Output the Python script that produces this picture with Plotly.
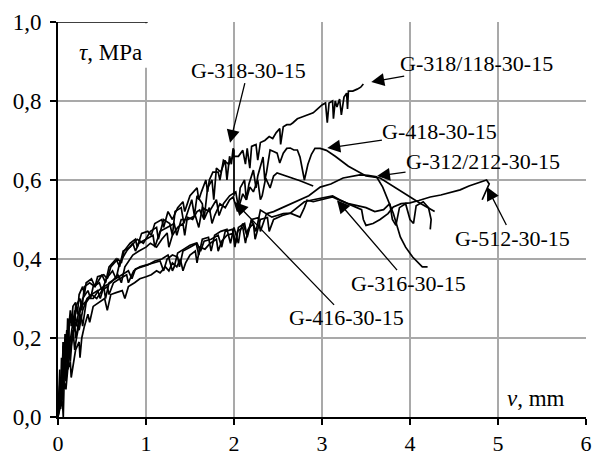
import plotly.graph_objects as go

# ---------------- data: (v [mm], tau [MPa]) ----------------
G318_118 = [(0, 0), (0.02, 0.08), (0.03, 0.05), (0.04, 0.15), (0.05, 0.11), (0.06, 0.19), (0.07, 0.14),
            (0.08, 0.21), (0.1, 0.18), (0.11, 0.25), (0.12, 0.22), (0.14, 0.27), (0.15, 0.23), (0.17, 0.28),
            (0.2, 0.29), (0.22, 0.26), (0.24, 0.31), (0.28, 0.33), (0.3, 0.31), (0.32, 0.34), (0.38, 0.35),
            (0.42, 0.33), (0.45, 0.355), (0.52, 0.36), (0.56, 0.35), (0.6, 0.38), (0.68, 0.4), (0.72, 0.39),
            (0.75, 0.42), (0.82, 0.44), (0.88, 0.45), (0.9, 0.43), (0.95, 0.465), (1.02, 0.47), (1.06, 0.46),
            (1.1, 0.49), (1.18, 0.5), (1.2, 0.48), (1.25, 0.52), (1.3, 0.5), (1.36, 0.53), (1.42, 0.545),
            (1.44, 0.52), (1.5, 0.56), (1.58, 0.58), (1.6, 0.55), (1.63, 0.57), (1.68, 0.6), (1.7, 0.57),
            (1.72, 0.6), (1.76, 0.62), (1.82, 0.62), (1.84, 0.6), (1.88, 0.65), (1.94, 0.64), (1.99, 0.66),
            (2.05, 0.66), (2.1, 0.675), (2.13, 0.64), (2.15, 0.68), (2.18, 0.63), (2.2, 0.685), (2.25, 0.69),
            (2.27, 0.65), (2.3, 0.695), (2.35, 0.70), (2.4, 0.71), (2.44, 0.705), (2.48, 0.72), (2.52, 0.73),
            (2.53, 0.69), (2.56, 0.735), (2.6, 0.74), (2.64, 0.74), (2.67, 0.745), (2.72, 0.755), (2.78, 0.76),
            (2.83, 0.765), (2.9, 0.77), (2.95, 0.78), (3.0, 0.79), (3.04, 0.795), (3.06, 0.745), (3.08, 0.795),
            (3.12, 0.8), (3.13, 0.755), (3.15, 0.80), (3.17, 0.785), (3.2, 0.805), (3.22, 0.765), (3.25, 0.81),
            (3.28, 0.82), (3.29, 0.78), (3.3, 0.825), (3.35, 0.825), (3.4, 0.83), (3.44, 0.835), (3.47, 0.843)]

G318 = [(0, 0), (0.03, 0.1), (0.04, 0.04), (0.06, 0.18), (0.07, 0.1), (0.08, 0.16), (0.1, 0.22), (0.11, 0.17),
        (0.13, 0.24), (0.16, 0.26), (0.18, 0.22), (0.2, 0.28), (0.25, 0.3), (0.27, 0.27), (0.3, 0.33),
        (0.36, 0.34), (0.42, 0.33), (0.5, 0.36), (0.54, 0.34), (0.58, 0.38), (0.66, 0.4), (0.7, 0.38),
        (0.74, 0.42), (0.82, 0.43), (0.9, 0.45), (0.97, 0.44), (1.05, 0.47), (1.12, 0.48), (1.14, 0.45),
        (1.2, 0.5), (1.27, 0.49), (1.3, 0.46), (1.33, 0.52), (1.4, 0.53), (1.43, 0.49), (1.46, 0.51),
        (1.52, 0.55), (1.55, 0.51), (1.58, 0.56), (1.64, 0.54), (1.66, 0.5), (1.7, 0.58), (1.75, 0.6),
        (1.77, 0.55), (1.8, 0.63), (1.85, 0.62), (1.9, 0.65), (1.92, 0.6), (1.95, 0.66), (1.97, 0.64),
        (1.99, 0.68), (2.0, 0.675), (2.0, 0.56)]

G418 = [(0, 0), (0.02, 0.12), (0.03, 0.06), (0.04, 0.08), (0.06, 0.19), (0.07, 0.12), (0.09, 0.16),
        (0.12, 0.23), (0.13, 0.18), (0.15, 0.21), (0.19, 0.27), (0.21, 0.23), (0.23, 0.26), (0.28, 0.3),
        (0.34, 0.32), (0.37, 0.3), (0.4, 0.33), (0.47, 0.34), (0.5, 0.32), (0.55, 0.35), (0.62, 0.37),
        (0.66, 0.35), (0.7, 0.39), (0.78, 0.42), (0.85, 0.44), (0.88, 0.42), (0.92, 0.44), (1.0, 0.45),
        (1.08, 0.46), (1.1, 0.43), (1.16, 0.47), (1.24, 0.48), (1.32, 0.49), (1.35, 0.46), (1.4, 0.5),
        (1.48, 0.5), (1.56, 0.51), (1.6, 0.48), (1.64, 0.53), (1.72, 0.52), (1.8, 0.55), (1.83, 0.51),
        (1.88, 0.54), (1.95, 0.56), (2.02, 0.57), (2.05, 0.53), (2.07, 0.58), (2.12, 0.6), (2.14, 0.55),
        (2.17, 0.59), (2.22, 0.625), (2.25, 0.58), (2.27, 0.61), (2.33, 0.658), (2.35, 0.6), (2.37, 0.62),
        (2.41, 0.676), (2.45, 0.672), (2.49, 0.668), (2.52, 0.643), (2.56, 0.668), (2.6, 0.68),
        (2.64, 0.681), (2.68, 0.676), (2.72, 0.676), (2.75, 0.658), (2.78, 0.618), (2.8, 0.6),
        (2.84, 0.64), (2.88, 0.665), (2.92, 0.68), (2.98, 0.68), (3.05, 0.675), (3.15, 0.66),
        (3.3, 0.635), (3.5, 0.61), (3.66, 0.605), (3.8, 0.585), (3.95, 0.565), (4.11, 0.542), (4.28, 0.52)]

G416 = [(0, 0), (0.03, 0.06), (0.05, 0.13), (0.06, 0.07), (0.07, 0.1), (0.1, 0.17), (0.11, 0.12),
        (0.13, 0.15), (0.17, 0.22), (0.19, 0.17), (0.21, 0.2), (0.26, 0.26), (0.28, 0.23), (0.32, 0.29),
        (0.38, 0.31), (0.45, 0.32), (0.48, 0.3), (0.52, 0.33), (0.6, 0.34), (0.68, 0.36), (0.72, 0.34),
        (0.76, 0.38), (0.85, 0.41), (0.92, 0.42), (1.0, 0.43), (1.05, 0.44), (1.12, 0.43), (1.18, 0.45),
        (1.24, 0.466), (1.26, 0.43), (1.3, 0.46), (1.36, 0.48), (1.42, 0.49), (1.44, 0.46), (1.47, 0.506),
        (1.53, 0.5), (1.58, 0.52), (1.61, 0.524), (1.66, 0.5), (1.72, 0.53), (1.75, 0.49), (1.78, 0.51),
        (1.84, 0.54), (1.9, 0.53), (1.95, 0.55), (1.99, 0.557), (2.04, 0.52), (2.1, 0.565), (2.14, 0.55),
        (2.18, 0.582), (2.22, 0.57), (2.27, 0.6), (2.3, 0.55), (2.32, 0.56), (2.36, 0.605), (2.41, 0.58),
        (2.45, 0.61), (2.49, 0.618), (2.6, 0.61), (2.75, 0.598), (2.9, 0.585)]

G312_212 = [(0, 0), (0.02, 0.05), (0.03, 0.02), (0.04, 0.1), (0.06, 0.07), (0.08, 0.14), (0.1, 0.12),
            (0.13, 0.18), (0.14, 0.14), (0.16, 0.2), (0.2, 0.24), (0.24, 0.22), (0.28, 0.27), (0.33, 0.3),
            (0.38, 0.31), (0.44, 0.3), (0.5, 0.32), (0.56, 0.33), (0.58, 0.31), (0.63, 0.34), (0.7, 0.35),
            (0.78, 0.36), (0.8, 0.34), (0.86, 0.37), (0.93, 0.38), (1.0, 0.385), (1.08, 0.39), (1.16, 0.395),
            (1.2, 0.37), (1.24, 0.4), (1.3, 0.41), (1.36, 0.405), (1.38, 0.38), (1.42, 0.42), (1.5, 0.43),
            (1.58, 0.44), (1.62, 0.42), (1.66, 0.445), (1.74, 0.45), (1.82, 0.46), (1.86, 0.43), (1.9, 0.47),
            (1.98, 0.475), (2.02, 0.44), (2.05, 0.48), (2.12, 0.49), (2.15, 0.455), (2.2, 0.5), (2.28, 0.505),
            (2.3, 0.47), (2.37, 0.515), (2.45, 0.52), (2.55, 0.53), (2.65, 0.54), (2.75, 0.55), (2.85, 0.56),
            (2.98, 0.582), (3.1, 0.59), (3.24, 0.605), (3.35, 0.61), (3.43, 0.613), (3.52, 0.612),
            (3.62, 0.608), (3.69, 0.582), (3.75, 0.55), (3.81, 0.516), (3.89, 0.456), (3.95, 0.43),
            (4.03, 0.405), (4.14, 0.38), (4.2, 0.38)]

G512 = [(0, 0), (0.02, 0.02), (0.05, 0.04), (0.06, 0.0), (0.07, 0.09), (0.09, 0.07), (0.11, 0.12),
        (0.14, 0.14), (0.15, 0.1), (0.17, 0.13), (0.2, 0.17), (0.24, 0.19), (0.25, 0.15), (0.27, 0.2),
        (0.3, 0.23), (0.34, 0.26), (0.36, 0.24), (0.4, 0.28), (0.46, 0.29), (0.53, 0.3), (0.56, 0.27),
        (0.6, 0.31), (0.66, 0.315), (0.73, 0.32), (0.76, 0.3), (0.8, 0.33), (0.87, 0.34), (0.93, 0.35),
        (1.0, 0.355), (1.06, 0.36), (1.12, 0.37), (1.16, 0.365), (1.22, 0.38), (1.26, 0.37), (1.3, 0.39),
        (1.35, 0.38), (1.39, 0.4), (1.42, 0.37), (1.45, 0.39), (1.5, 0.41), (1.56, 0.42), (1.58, 0.39),
        (1.61, 0.43), (1.67, 0.425), (1.73, 0.44), (1.8, 0.45), (1.82, 0.42), (1.86, 0.445), (1.92, 0.46),
        (1.99, 0.465), (2.01, 0.43), (2.04, 0.47), (2.1, 0.48), (2.13, 0.44), (2.16, 0.475), (2.22, 0.49),
        (2.24, 0.45), (2.3, 0.5), (2.38, 0.505), (2.4, 0.47), (2.45, 0.5), (2.55, 0.51), (2.64, 0.516),
        (2.7, 0.51), (2.75, 0.506), (2.8, 0.53), (2.83, 0.549), (2.9, 0.545), (2.98, 0.549), (3.05, 0.552),
        (3.12, 0.557), (3.2, 0.549), (3.3, 0.54), (3.4, 0.53), (3.45, 0.525), (3.47, 0.5), (3.5, 0.485),
        (3.58, 0.49), (3.66, 0.5), (3.75, 0.515), (3.81, 0.532), (3.9, 0.54), (4.0, 0.542), (4.1, 0.548),
        (4.23, 0.557), (4.35, 0.562), (4.45, 0.568), (4.57, 0.575), (4.67, 0.585), (4.76, 0.592),
        (4.82, 0.597), (4.87, 0.6), (4.9, 0.59), (4.88, 0.58), (4.82, 0.55)]

G316 = [(0, 0), (0.03, 0.08), (0.04, 0.03), (0.05, 0.05), (0.08, 0.15), (0.09, 0.09), (0.1, 0.12),
        (0.12, 0.2), (0.13, 0.15), (0.15, 0.18), (0.19, 0.24), (0.2, 0.2), (0.22, 0.22), (0.26, 0.28),
        (0.3, 0.29), (0.35, 0.3), (0.4, 0.3), (0.46, 0.32), (0.52, 0.33), (0.54, 0.3), (0.58, 0.34),
        (0.65, 0.35), (0.72, 0.36), (0.8, 0.37), (0.84, 0.35), (0.88, 0.375), (0.95, 0.38), (1.02, 0.385),
        (1.1, 0.395), (1.18, 0.4), (1.25, 0.41), (1.3, 0.37), (1.32, 0.38), (1.36, 0.415), (1.43, 0.425),
        (1.5, 0.435), (1.57, 0.44), (1.6, 0.41), (1.64, 0.45), (1.71, 0.455), (1.74, 0.42), (1.78, 0.46),
        (1.85, 0.47), (1.92, 0.475), (1.96, 0.44), (2.0, 0.48), (2.05, 0.44), (2.07, 0.47), (2.1, 0.49),
        (2.15, 0.46), (2.2, 0.5), (2.25, 0.47), (2.3, 0.524), (2.37, 0.515), (2.43, 0.506), (2.49, 0.51),
        (2.56, 0.515), (2.64, 0.516), (2.72, 0.53), (2.8, 0.545), (2.9, 0.55), (3.0, 0.555), (3.12, 0.56),
        (3.2, 0.55), (3.3, 0.54), (3.4, 0.535), (3.5, 0.53), (3.6, 0.52), (3.7, 0.525), (3.77, 0.54),
        (3.8, 0.5), (3.84, 0.485), (3.88, 0.53), (3.95, 0.54), (4.0, 0.5), (4.04, 0.49), (4.07, 0.535),
        (4.15, 0.545), (4.21, 0.53), (4.24, 0.5), (4.23, 0.475)]

series = [
    ("G-318/118-30-15", G318_118),
    ("G-318-30-15", G318),
    ("G-418-30-15", G418),
    ("G-416-30-15", G416),
    ("G-312/212-30-15", G312_212),
    ("G-512-30-15", G512),
    ("G-316-30-15", G316),
]

# label text position (data) and arrow tip (data)
label_names = ["G-318/118-30-15", "G-318-30-15", "G-418-30-15", "G-312/212-30-15",
               "G-512-30-15", "G-316-30-15", "G-416-30-15"]
label_text_x = [4.75, 2.16, 4.34, 4.83, 5.17, 3.98, 3.28]
label_text_y = [0.896, 0.878, 0.722, 0.646, 0.453, 0.339, 0.251]
label_tip_x = [3.56, 1.955, 3.06, 3.625, 4.875, 3.17, 2.01]
label_tip_y = [0.848, 0.694, 0.681, 0.61, 0.582, 0.549, 0.544]

x_ticks = [0, 1, 2, 3, 4, 5, 6]
y_ticks = [0.0, 0.2, 0.4, 0.6, 0.8, 1.0]

FONT = "Liberation Serif, Times New Roman, serif"

fig = go.Figure()
for name, pts in series:
    xs = [p[0] for p in pts]
    ys = [p[1] for p in pts]
    fig.add_trace(go.Scatter(x=xs, y=ys, mode="lines", name=name,
                             line=dict(color="black", width=1.7), showlegend=False,
                             hoverinfo="skip"))

for name, tx, ty, px, py in zip(label_names, label_text_x, label_text_y, label_tip_x, label_tip_y):
    fig.add_annotation(x=px, y=py, xref="x", yref="y", ax=tx, ay=ty, axref="x", ayref="y",
                       text=name, showarrow=True, arrowhead=2, arrowsize=2.0, arrowwidth=1.3,
                       arrowcolor="black", font=dict(family=FONT, size=22, color="black"),
                       borderpad=0)

# white box behind the y-axis title (hides the grid line there, as in the reference)
fig.add_shape(type="rect", xref="x", yref="y", x0=0.01, x1=1.03, y0=0.884, y1=0.996,
              fillcolor="white", line=dict(width=0), layer="between")
fig.add_shape(type="line", xref="x", yref="y", x0=0, x1=1.02, y0=1.0, y1=1.0,
              line=dict(color="black", width=1.5), layer="between")

fig.add_annotation(x=0.1, y=0.924, xref="paper", yref="paper", text="<i>τ</i>, MPa",
                   xanchor="center", yanchor="middle", showarrow=False,
                   font=dict(family=FONT, size=23, color="black"))
fig.add_annotation(x=0.905, y=0.048, xref="paper", yref="paper", text="<i>v</i>, mm",
                   xanchor="center", yanchor="middle", showarrow=False,
                   font=dict(family=FONT, size=23, color="black"))

fig.update_layout(
    width=593, height=456,
    margin=dict(l=58, r=7, t=22, b=39, autoexpand=False),
    paper_bgcolor="white", plot_bgcolor="white",
    separators=", ",
    font=dict(family=FONT, size=23, color="black"),
    xaxis=dict(range=[0, 6], tickvals=x_ticks, ticks="outside", ticklen=6, tickwidth=2,
               tickcolor="black", showline=True, linecolor="black", linewidth=2,
               showgrid=True, gridcolor="#a9a9a9", gridwidth=1.5, zeroline=False,
               automargin=False, tickfont=dict(size=22)),
    yaxis=dict(range=[0, 1], tickvals=y_ticks, tickformat=".1f", ticks="outside", ticklen=6,
               tickwidth=2, tickcolor="black", showline=True, linecolor="black", linewidth=2,
               showgrid=True, gridcolor="#a9a9a9", gridwidth=1.5, zeroline=False,
               automargin=False, ticklabelstandoff=4),
)

# the page's default 8px body margin would shift the figure; remove it
fig.write_html("out.html", config={"displayModeBar": False},
               post_script="document.body.style.margin='0px';")
